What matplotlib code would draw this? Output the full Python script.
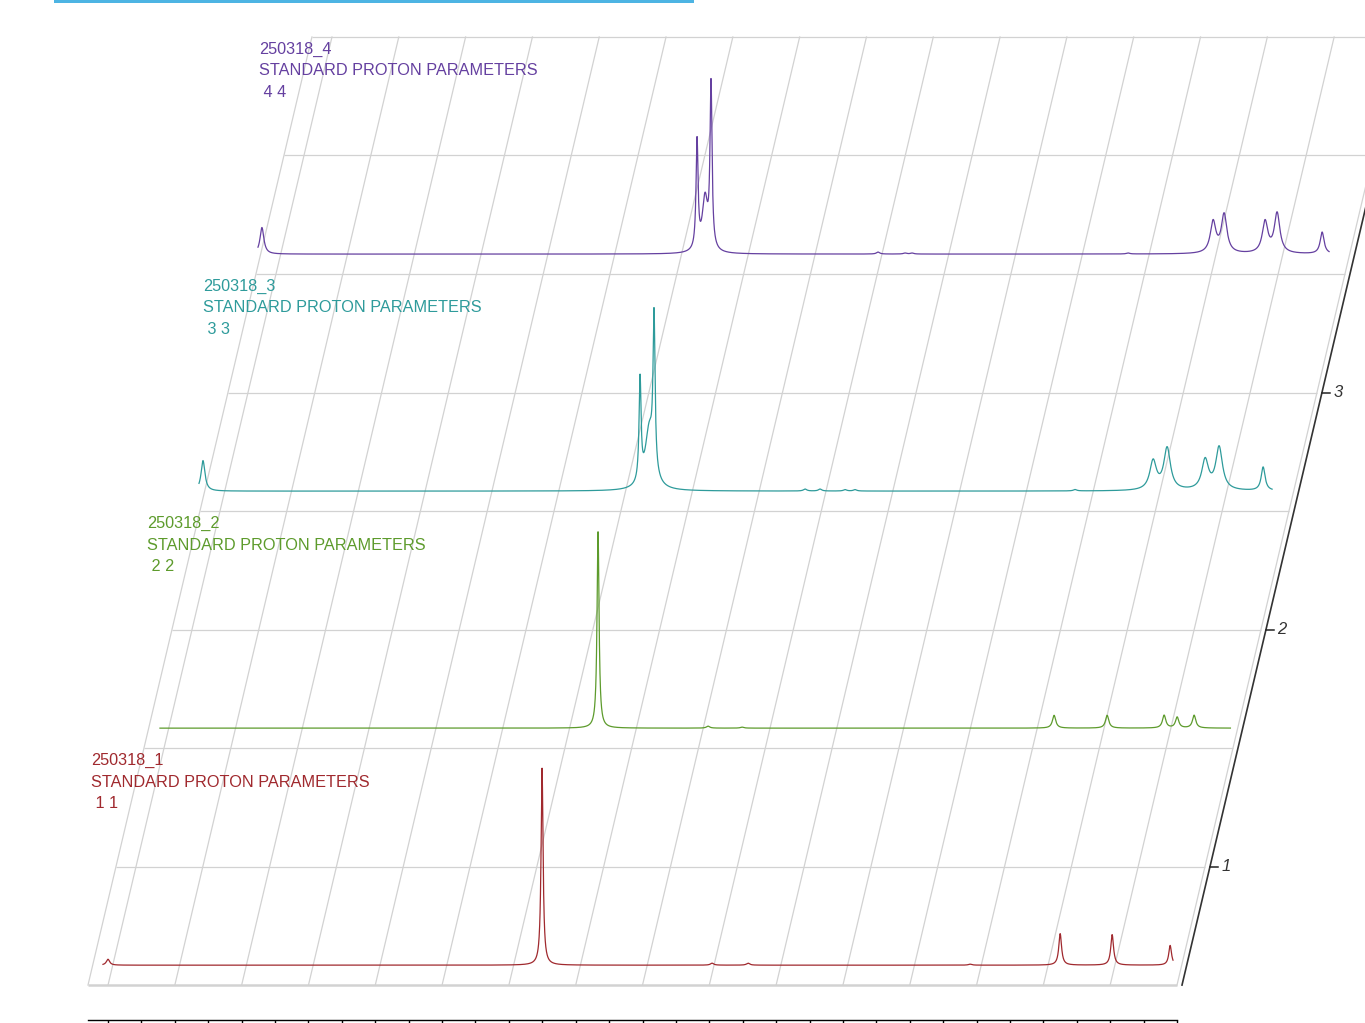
import numpy as np
import matplotlib
matplotlib.use("Agg")
import matplotlib.pyplot as plt
from matplotlib.patches import Rectangle

plt.rcParams['font.family'] = ['Liberation Sans', 'DejaVu Sans']

# experiments, stacked front to back
names = ["250318_1", "250318_2", "250318_3", "250318_4"]
titles = ["STANDARD PROTON PARAMETERS"] * 4
expnos = [" 1 1", " 2 2", " 3 3", " 4 4"]
index = [1, 2, 3, 4]
colors = ["#a0292e", "#5d9b2c", "#2e9b9b", "#6540a0"]

# recorded ppm window of each spectrum (left, right)
ppm_start = [16.146, 16.131, 16.385, 16.340]
ppm_end = [0.128, 0.108, 0.322, 0.307]

# peak tables: shift (ppm), relative intensity, half width (ppm)
shift_1 = [16.071, 9.574, 7.029, 6.490, 3.167, 1.819, 1.041, 0.173]
inten_1 = [3.0, 100.0, 1.0, 1.0, 0.5, 16.0, 15.5, 10.0]
width_1 = [0.03, 0.018, 0.03, 0.03, 0.03, 0.025, 0.025, 0.025]

shift_2 = [9.574, 7.927, 7.418, 2.748, 1.954, 1.101, 0.906, 0.652]
inten_2 = [100.0, 1.0, 0.5, 6.5, 6.5, 6.5, 5.5, 6.5]
width_2 = [0.018, 0.03, 0.03, 0.03, 0.03, 0.03, 0.03, 0.03]

shift_3 = [16.325, 9.783, 9.645, 9.574, 7.313, 7.089, 6.714, 6.565, 3.272,
           2.104, 1.894, 1.325, 1.116, 0.457]
inten_3 = [15.5, 52.0, 30.0, 77.0, 1.0, 1.0, 0.7, 0.7, 0.7,
           14.6, 21.2, 15.1, 21.7, 12.0]
width_3 = [0.035, 0.018, 0.075, 0.018, 0.03, 0.03, 0.03, 0.03, 0.03,
           0.06, 0.06, 0.06, 0.06, 0.035]

shift_4 = [16.281, 9.768, 9.649, 9.559, 7.059, 6.655, 6.550, 3.317,
           2.044, 1.879, 1.266, 1.086, 0.412]
inten_4 = [13.5, 55.0, 27.0, 82.5, 1.0, 0.5, 0.5, 0.5,
           15.8, 19.5, 15.9, 20.2, 11.0]
width_4 = [0.035, 0.018, 0.05, 0.018, 0.03, 0.03, 0.03, 0.03,
           0.05, 0.05, 0.05, 0.05, 0.035]

peaks = [(shift_1, inten_1, width_1), (shift_2, inten_2, width_2),
         (shift_3, inten_3, width_3), (shift_4, inten_4, width_4)]

# floor / depth axis
floor_left, floor_right = 16.3, 0.0
depth_min, depth_max = 0.5, 4.5
depth_ticks = [1, 2, 3]

# oblique projection: one depth unit moves right by SHIFT_X ppm and up by one plot unit
SHIFT_X = 0.838
H_SCALE = 0.00831
STACK_GAP = 0.416


def project(ppm, inten, depth):
    ppm = np.asarray(ppm, dtype=float)
    d = depth - depth_min
    return ppm - d * SHIFT_X, d + np.asarray(inten, dtype=float) * H_SCALE


def lorentz(x, pos, amp, hw):
    y = np.zeros_like(x)
    for p, a, w in zip(pos, amp, hw):
        y += a * w ** 2 / ((x - p) ** 2 + w ** 2)
    return y


fig = plt.figure(figsize=(13.65, 10.23), dpi=100)
ax = fig.add_axes([0, 0, 1, 1])
ax.set_xlim(17.617, -2.814)
ax.set_ylim(-0.160, 4.156)
ax.axis("off")

grid_c = "#d2d2d2"
# depth lines across the floor
for d in np.arange(depth_min, depth_max + 0.01, 0.5):
    gx, gy = project([floor_left, floor_right], [0, 0], d)
    ax.plot(gx, gy, color=grid_c, lw=1.8 if d == depth_min else 0.9,
            zorder=1, solid_capstyle="butt")
# ppm lines running back
for p in [floor_left] + list(np.arange(16, -0.5, -1.0)):
    x0, y0 = project([p], [0], depth_min)
    x1, y1 = project([p], [0], depth_max)
    ax.plot([x0[0], x1[0]], [y0[0], y1[0]], color=grid_c, lw=0.9, zorder=1)

# depth axis on the right
ax_off = -0.075
ax0, ay0 = project([floor_right + ax_off], [0], depth_min)
ax1, ay1 = project([floor_right + ax_off], [0], depth_max)
ax.plot([ax0[0], ax1[0]], [ay0[0], ay1[0]], color="#333333", lw=1.2, zorder=3)
for t in depth_ticks:
    tx, ty = project([floor_right + ax_off], [0], t)
    ax.plot([tx[0], tx[0] - 0.12], [ty[0], ty[0]], color="#222222", lw=1.1, zorder=3)
    ax.text(tx[0] - 0.17, ty[0], str(t), fontsize=12, style="italic",
            color="#333333", ha="left", va="center", zorder=3)

# spectra, back to front
for i in reversed(range(4)):
    depth = index[i] - STACK_GAP
    x = np.arange(ppm_start[i], ppm_end[i], -0.002)
    pos, amp, hw = peaks[i]
    y = lorentz(x, pos, amp, hw)
    px, py = project(x, y, depth)
    ax.plot(px, py, color=colors[i], lw=0.9, zorder=4 + (4 - i))
    lx, ly = project([16.33], [0], depth)
    ax.text(lx[0], ly[0] + 0.895, names[i] + "\n" + titles[i] + "\n" + expnos[i],
            color=colors[i], fontsize=11.7, ha="left", va="top",
            linespacing=1.53, zorder=10)

# ppm scale under the stack
axp = fig.add_axes([88 / 1365, 3 / 1023, (1177 - 88) / 1365, 0.0001])
axp.set_xlim(floor_left, floor_right)
axp.set_xticks(np.arange(16, -0.01, -0.5))
axp.tick_params(axis="x", direction="out", length=4, width=1, labelbottom=False)
axp.set_yticks([])
axp.patch.set_alpha(0)
for s in ["top", "left", "right"]:
    axp.spines[s].set_visible(False)
axp.spines["bottom"].set_linewidth(1.0)

# header bar
fig.patches.append(Rectangle((54 / 1365, 1020 / 1023), (694 - 54) / 1365, 3 / 1023,
                             transform=fig.transFigure, color="#4db4e3", lw=0))

fig.savefig("out.png", dpi=100)
